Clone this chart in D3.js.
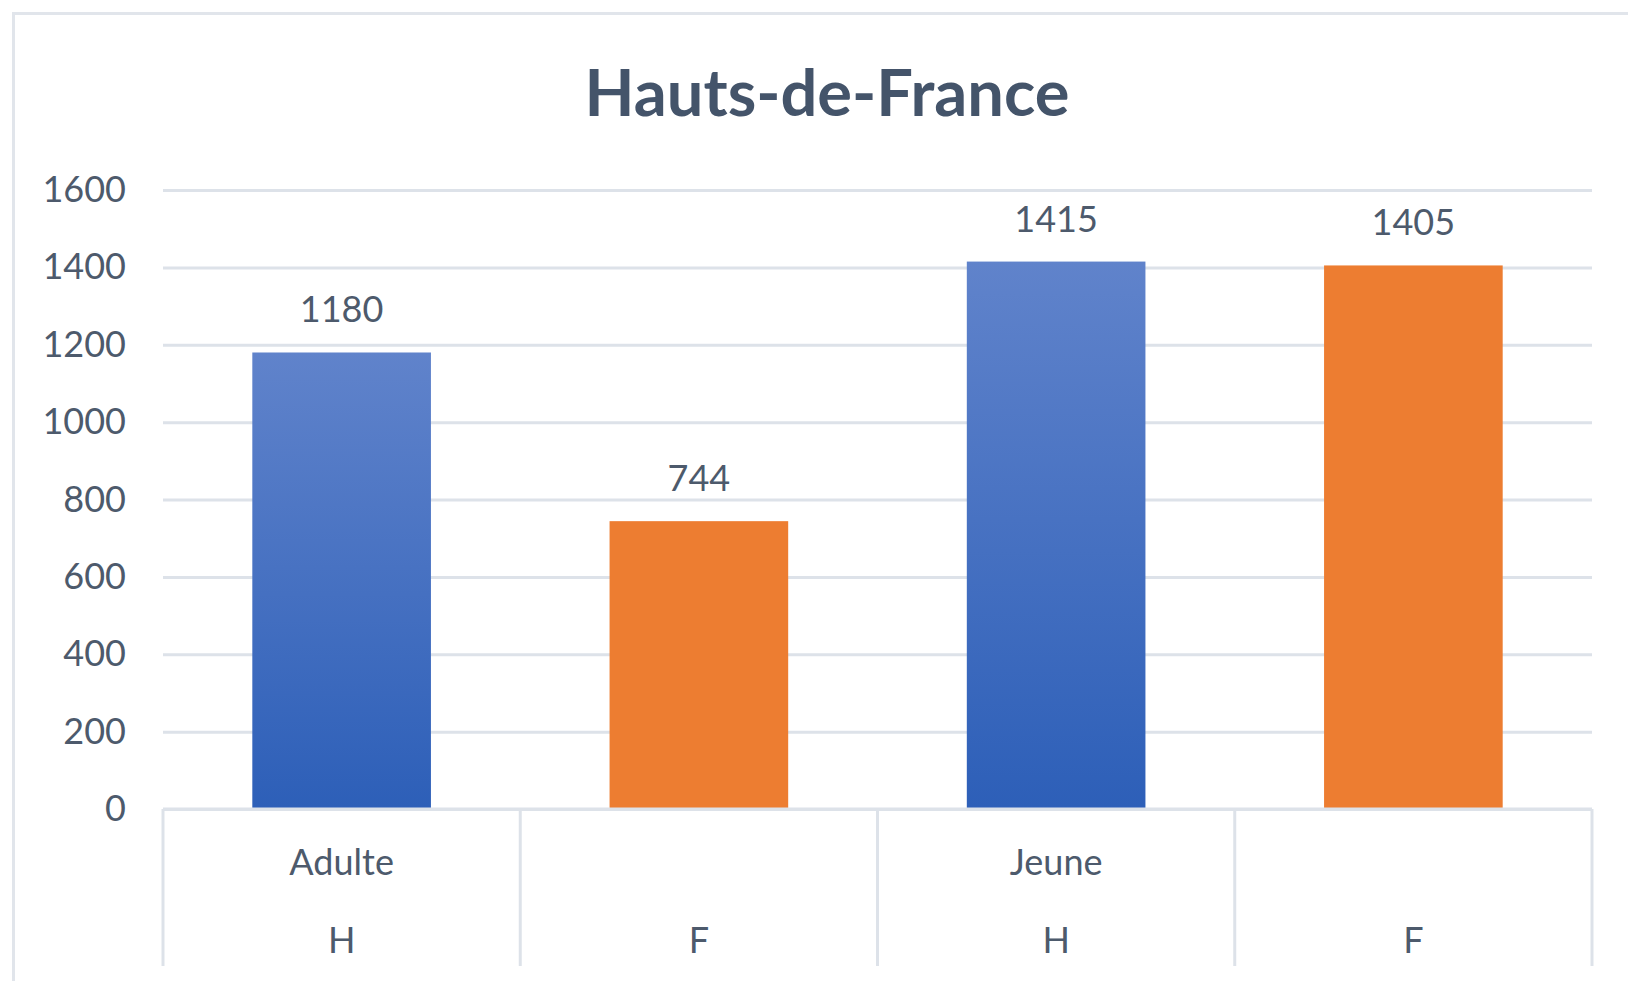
<!DOCTYPE html>
<html>
<head>
<meta charset="utf-8">
<script src="https://cdn.jsdelivr.net/npm/d3@7"></script>
<style>
  body { margin: 0; background: #fff; }
  svg { display: block; font-family: Lato, "Open Sans", sans-serif; }
</style>
</head>
<body>
<div id="chart"></div>
<script>
var categories = ["Adulte H", "Adulte F", "Jeune H", "Jeune F"];
var groupLabels = ["Adulte", "", "Jeune", ""];
var sexLabels = ["H", "F", "H", "F"];
var values = [1180, 744, 1415, 1405];
var yTicks = [0, 200, 400, 600, 800, 1000, 1200, 1400, 1600];

var svgWidth = 1628;
var svgHeight = 981;
var margin = { top: 190, right: 36, bottom: 172, left: 163 };
var width = svgWidth - margin.left - margin.right;
var height = svgHeight - margin.top - margin.bottom;

var svg = d3.select("#chart")
    .append("svg")
    .attr("width", svgWidth)
    .attr("height", svgHeight);

var defs = svg.append("defs");
var grad = defs.append("linearGradient")
    .attr("id", "blueGrad")
    .attr("x1", 0).attr("y1", 0).attr("x2", 0).attr("y2", 1);
grad.append("stop").attr("offset", "0%").attr("stop-color", "#6083cb");
grad.append("stop").attr("offset", "100%").attr("stop-color", "#2d5fb8");

// outer chart border (cropped at right/bottom)
svg.append("path")
    .attr("d", "M13.5," + svgHeight + " V13.5 H" + svgWidth)
    .attr("fill", "none")
    .attr("stroke", "#e1e5eb")
    .attr("stroke-width", 3);

svg.append("text")
    .attr("x", 827)
    .attr("y", 116)
    .attr("text-anchor", "middle")
    .attr("font-size", 65)
    .attr("font-weight", "bold")
    .attr("fill", "#44546a")
    .text("Hauts-de-France");

var chartGroup = svg.append("g")
    .attr("transform", `translate(${margin.left},${margin.top})`);

var xScale = d3.scaleBand()
    .domain(categories)
    .range([0, width])
    .paddingInner(0.5)
    .paddingOuter(0.25);

var yScale = d3.scaleLinear()
    .domain([0, 1600])
    .range([height, 0]);

var leftAxis = d3.axisLeft(yScale)
    .tickValues(yTicks)
    .tickSize(-width)
    .tickPadding(37)
    .tickFormat(d3.format("d"));

var yAxis = chartGroup.append("g").call(leftAxis);
yAxis.select(".domain").remove();
yAxis.selectAll(".tick line")
    .attr("stroke", "#dde2e9")
    .attr("stroke-width", 3);
yAxis.selectAll(".tick text")
    .attr("font-size", 36)
    .attr("font-family", "Lato, 'Open Sans', sans-serif")
    .attr("fill", "#4d5a6c");

chartGroup.selectAll("rect.bar")
    .data(values)
    .enter()
    .append("rect")
    .attr("class", "bar")
    .attr("x", (d, i) => xScale(categories[i]))
    .attr("y", d => yScale(d))
    .attr("width", xScale.bandwidth())
    .attr("height", d => height - yScale(d))
    .attr("fill", (d, i) => sexLabels[i] === "H" ? "url(#blueGrad)" : "#ed7d31");

chartGroup.selectAll("text.val")
    .data(values)
    .enter()
    .append("text")
    .attr("class", "val")
    .attr("x", (d, i) => xScale(categories[i]) + xScale.bandwidth() / 2)
    .attr("y", d => yScale(d) - 30)
    .attr("text-anchor", "middle")
    .attr("font-size", 36)
    .attr("fill", "#4d5a6c")
    .text(d => d);

// multi-level category axis
var step = xScale.step();
var x0 = xScale(categories[0]) - xScale.paddingOuter() * step;
var axisG = chartGroup.append("g");
axisG.append("line")
    .attr("x1", 0).attr("x2", width)
    .attr("y1", height).attr("y2", height)
    .attr("stroke", "#dde2e9").attr("stroke-width", 3);
axisG.selectAll("line.div")
    .data(d3.range(categories.length + 1))
    .enter()
    .append("line")
    .attr("class", "div")
    .attr("x1", i => x0 + i * step)
    .attr("x2", i => x0 + i * step)
    .attr("y1", height)
    .attr("y2", height + 157)
    .attr("stroke", "#dde2e9").attr("stroke-width", 3);

axisG.selectAll("text.grp")
    .data(groupLabels)
    .enter()
    .append("text")
    .attr("class", "grp")
    .attr("x", (d, i) => xScale(categories[i]) + xScale.bandwidth() / 2)
    .attr("y", height + 66)
    .attr("text-anchor", "middle")
    .attr("font-size", 36)
    .attr("fill", "#4d5a6c")
    .text(d => d);

axisG.selectAll("text.sex")
    .data(sexLabels)
    .enter()
    .append("text")
    .attr("class", "sex")
    .attr("x", (d, i) => xScale(categories[i]) + xScale.bandwidth() / 2)
    .attr("y", height + 144)
    .attr("text-anchor", "middle")
    .attr("font-size", 36)
    .attr("fill", "#4d5a6c")
    .text(d => d);
</script>
</body>
</html>
